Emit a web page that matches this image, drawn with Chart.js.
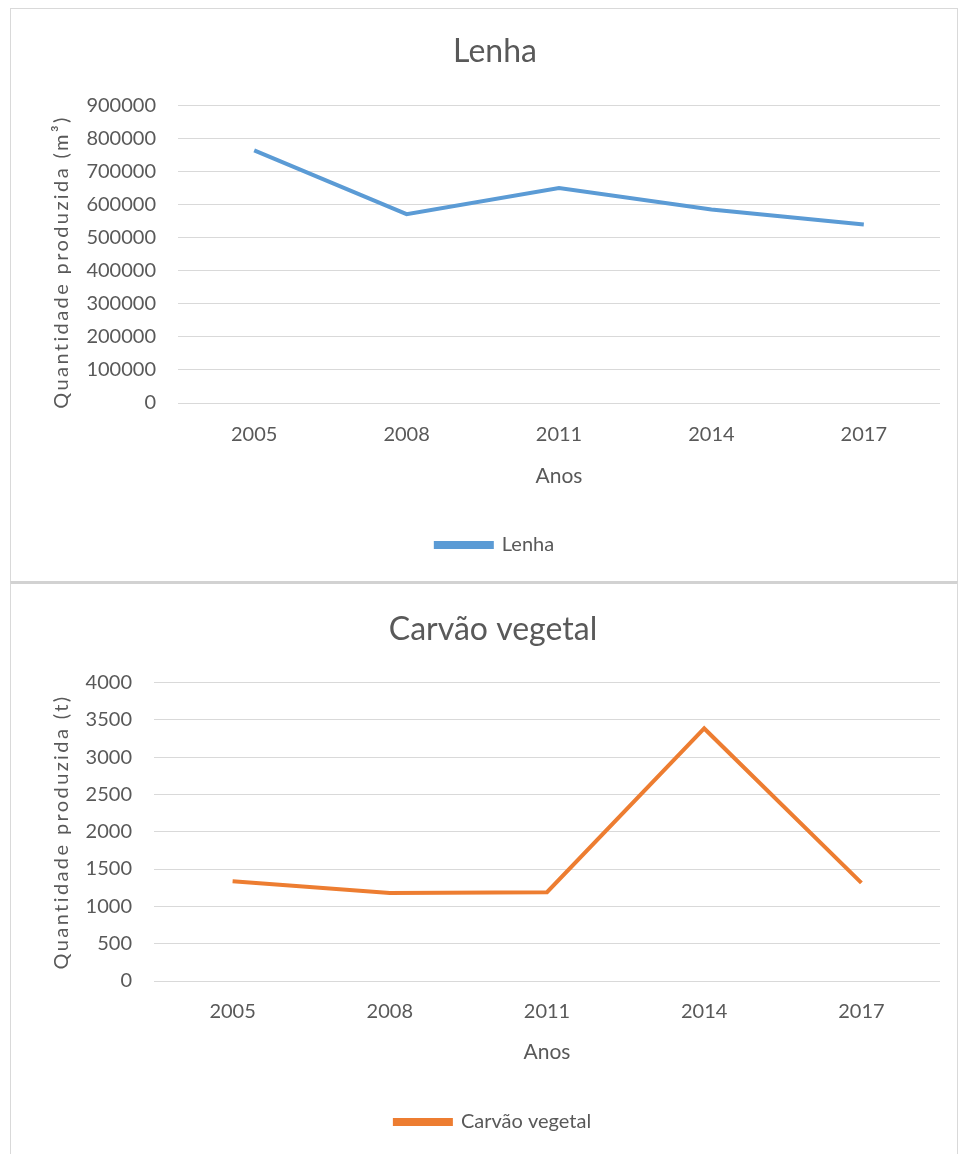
<!DOCTYPE html>
<html>
<head>
<meta charset="utf-8">
<script src="https://cdn.jsdelivr.net/npm/chart.js@4"></script>
<style>
  body { margin: 0; background: #fff; }
  .frame { position: absolute; box-sizing: border-box; border: 1px solid #d9d9d9; }
  #frameTop { left: 10px; top: 8px; width: 948px; height: 575px; }
  #frameBottom { left: 10px; top: 581px; width: 948px; height: 580px; border-top: 3px solid #d2d2d2; }
  canvas { position: absolute; left: 0; }
  #lenhaChart { top: 0; }
  #carvaoChart { top: 582px; }
</style>
</head>
<body>
<div class="frame" id="frameTop"></div>
<div class="frame" id="frameBottom"></div>
<canvas id="lenhaChart" width="960" height="582"></canvas>
<canvas id="carvaoChart" width="960" height="572"></canvas>
<script>
const anos = ['2005', '2008', '2011', '2014', '2017']

// Lenha (m³)
const lenhaValores = [764000, 571000, 650000, 585000, 540000]
// Carvão vegetal (t)
const carvaoValores = [1336, 1180, 1189, 3383, 1314]

const textColor = '#595959'
const gridColor = '#d9d9d9'
const fontFamily = 'Lato, "Open Sans", sans-serif'

Chart.defaults.font.family = fontFamily
Chart.defaults.color = textColor

// vertical axis title, drawn by hand so it can be letter-spaced
const yTitlePlugin = {
  id: 'yTitle',
  afterDraw(chart, args, opts) {
    const ctx = chart.ctx
    ctx.save()
    ctx.translate(opts.x, opts.y)
    ctx.rotate(-Math.PI / 2)
    ctx.font = `20px ${fontFamily}`
    ctx.letterSpacing = '2.4px'
    ctx.fillStyle = textColor
    ctx.textAlign = 'center'
    ctx.textBaseline = 'middle'
    ctx.fillText(opts.text, 0, 0)
    ctx.restore()
  }
}

function buildChart(canvasId, opts) {
  const ctx = document.getElementById(canvasId).getContext('2d')
  return new Chart(ctx, {
    type: 'line',
    data: {
      labels: anos,
      datasets: [{
        label: opts.label,
        data: opts.values,
        borderColor: opts.color,
        backgroundColor: opts.color,
        borderWidth: 4,
        pointRadius: 0,
        tension: 0,
        fill: false
      }]
    },
    plugins: [yTitlePlugin],
    options: {
      responsive: false,
      animation: false,
      layout: {
        padding: { left: opts.padLeft, right: 20, top: 20, bottom: opts.padBottom }
      },
      plugins: {
        title: {
          display: true,
          text: opts.title,
          color: textColor,
          font: { size: 32, weight: 'normal' },
          padding: { top: opts.titleTop, bottom: opts.titleBottom }
        },
        legend: {
          position: 'bottom',
          labels: {
            boxWidth: 56,
            boxHeight: 4,
            color: textColor,
            font: { size: 20 },
            padding: 10
          }
        },
        tooltip: { enabled: false },
        yTitle: { text: opts.yTitle, x: 62, y: opts.yTitleY }
      },
      scales: {
        x: {
          offset: true,
          grid: { display: false, drawTicks: false },
          border: { display: false },
          ticks: { padding: opts.xTickPad, font: { size: 20 }, color: textColor },
          title: {
            display: true,
            text: 'Anos',
            color: textColor,
            font: { size: 21 },
            padding: { top: 0, bottom: opts.xTitleBottom }
          },
          afterFit(scale) {
            scale.height = opts.xAxisHeight
          }
        },
        y: {
          min: 0,
          max: opts.max,
          border: { display: false },
          grid: { color: gridColor, lineWidth: 1, drawTicks: false },
          ticks: {
            stepSize: opts.step,
            padding: 22,
            font: { size: 20 },
            color: textColor,
            callback: value => String(value)
          },
          title: { display: false },
          afterFit(scale) {
            scale.width = opts.axisWidth
          }
        }
      }
    }
  })
}

buildChart('lenhaChart', {
  label: 'Lenha',
  title: 'Lenha',
  values: lenhaValores,
  color: '#5b9bd5',
  max: 900000,
  step: 100000,
  yTitle: 'Quantidade produzida (m³)',
  yTitleY: 262,
  padLeft: 50,
  padBottom: 17,
  axisWidth: 128,
  titleTop: 12,
  titleBottom: 35,
  xTickPad: 20,
  xAxisHeight: 122,
  xTitleBottom: 36
})

buildChart('carvaoChart', {
  label: 'Carvão vegetal',
  title: 'Carvão vegetal',
  values: carvaoValores,
  color: '#ed7d31',
  max: 4000,
  step: 500,
  yTitle: 'Quantidade produzida (t)',
  yTitleY: 250,
  padLeft: 46,
  padBottom: 12,
  axisWidth: 108,
  titleTop: 8,
  titleBottom: 34,
  xTickPad: 19,
  xAxisHeight: 121,
  xTitleBottom: 37
})
</script>
</body>
</html>
